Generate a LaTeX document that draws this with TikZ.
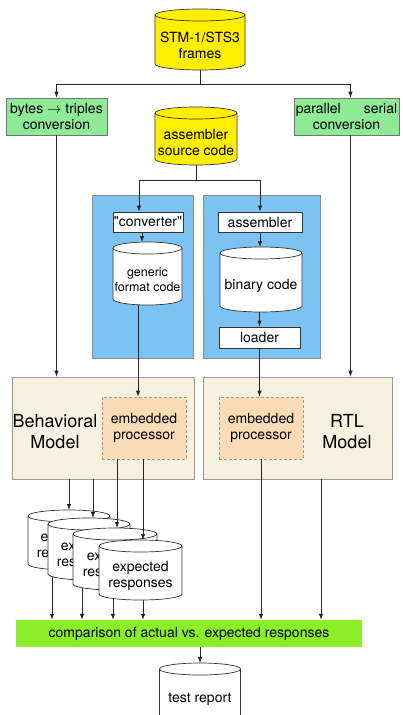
\documentclass[tikz,border=0pt]{standalone}
\usepackage{fontspec}
\setmainfont{TeX Gyre Heros}
\newfontfamily\plainquotes{TeX Gyre Heros}
\usetikzlibrary{arrows.meta}

\definecolor{drumyellow}{RGB}{255,238,0}
\definecolor{convgreen}{RGB}{142,234,150}
\definecolor{panelblue}{RGB}{124,195,243}
\definecolor{modelbeige}{RGB}{246,241,222}
\definecolor{procpeach}{RGB}{249,219,182}
\definecolor{bargreen}{RGB}{140,238,40}

\pgfdeclarelayer{paper}
\pgfdeclarelayer{behind}
\pgfsetlayers{paper,behind,main}

% drum (cylinder) symbol: name, centre x, top y, width, height, fill, font, text
\newcommand{\drum}[8]{%
  \node[minimum width=#4pt, minimum height=#5pt, inner sep=0pt, outer sep=0pt,
        anchor=north] (#1) at (#2,#3) {};
  \filldraw[fill=#6, draw=black!80, line width=0.7pt]
    ([yshift=-6pt]#1.north west) -- ([yshift=6pt]#1.south west)
    arc[start angle=180, end angle=360, x radius=#4pt/2, y radius=6pt]
    -- ([yshift=-6pt]#1.north east)
    arc[start angle=0, end angle=180, x radius=#4pt/2, y radius=6pt] -- cycle;
  \draw[draw=black!80, line width=0.7pt] ([yshift=-6pt]#1.north west)
    arc[start angle=180, end angle=360, x radius=#4pt/2, y radius=6pt];
  \node[font=#7, align=center, inner sep=0pt] (#1-t) at ([yshift=-6pt]#1.center) {#8};
}

\begin{document}
\begin{tikzpicture}[x=1pt, y=-1pt,
  every node/.style={font=\fontsize{14}{16}\selectfont},
  line/.style={draw=black!85, line width=0.8pt},
  arr/.style={line, -{Latex[length=6pt,width=4.5pt]}},
  convbox/.style={draw=black!55, fill=convgreen, line width=0.6pt, align=center, inner sep=0pt},
  panel/.style={draw=black!45, fill=panelblue, line width=0.5pt, inner sep=0pt},
  whitebox/.style={draw=black!80, fill=white, line width=0.7pt, inner sep=0pt},
  model/.style={draw=black!40, fill=modelbeige, line width=0.6pt, inner sep=0pt},
  proc/.style={draw=black!40, fill=procpeach, densely dashed, line width=0.6pt,
               align=center, inner sep=0pt}]

\useasboundingbox (0,0) rectangle (403,715);
\begin{pgfonlayer}{paper}
  \fill[white] (0,0) rectangle (403,715);
\end{pgfonlayer}

% sources
\drum{stm}{200}{9}{90}{61}{drumyellow}{\fontsize{14}{16}\selectfont}{STM-1/STS3\\frames}
\node[convbox, minimum width=101pt, minimum height=37pt] (bt) at (56.5,116.5)
  {bytes $\rightarrow$ triples\\conversion};
\node[convbox, minimum width=105pt, minimum height=37pt] (ps) at (346.5,116.5)
  {parallel\hspace{23pt}serial\\conversion};
\drum{asm}{196}{107}{82}{58}{drumyellow}{\fontsize{14}{16}\selectfont}{assembler\\source code}

% tool chains
\node[panel, minimum width=101pt, minimum height=163pt] (pl) at (142.5,276.5) {};
\node[panel, minimum width=117pt, minimum height=163pt] (pr) at (261.5,276.5) {};
\node[whitebox, minimum width=70pt, minimum height=20pt] (conv) at (148,222)
  {\plainquotes "converter"};
\node[whitebox, minimum width=84pt, minimum height=20pt] (asmb) at (260,222) {assembler};
\drum{gen}{147.5}{242}{69}{63}{white}{\fontsize{12.5}{15}\selectfont}{generic\\format code}
\drum{bin}{261}{247}{82}{65}{white}{\fontsize{14}{16}\selectfont}{binary code}
\node[whitebox, minimum width=81pt, minimum height=21pt] (loader) at (259.5,337.5) {loader};

% models
\node[model, minimum width=182pt, minimum height=102pt] (beh) at (103,428) {};
\node[model, minimum width=189pt, minimum height=102pt] (rtl) at (297.5,428) {};
\node[proc, minimum width=84pt, minimum height=62pt] (ep1) at (144,428) {embedded\\processor};
\node[proc, minimum width=84pt, minimum height=62pt] (ep2) at (261,428) {embedded\\processor};
\node[font=\fontsize{18}{21}\selectfont, align=center] (behl) at (55,432) {Behavioral\\Model};
\node[font=\fontsize{18}{21}\selectfont, align=center] (rtll) at (347,432) {RTL\\Model};

% expected responses (stacked; only the uncovered letters of the back ones show)
\drum{c1}{69}{510}{82}{60}{white}{\fontsize{14}{16}\selectfont}
  {e\phantom{xpected}\\re\phantom{sponses}}
\drum{c2}{89}{518}{82}{62}{white}{\fontsize{14}{16}\selectfont}
  {ex\phantom{pected}\\res\phantom{ponses}}
\drum{c3}{115}{528}{84}{62}{white}{\fontsize{14}{16}\selectfont}
  {ex\phantom{pected}\\res\phantom{ponses}}
\drum{c4}{140.5}{540}{83}{60}{white}{\fontsize{14}{16}\selectfont}{expected\\responses}

% comparison and report
\node[fill=bargreen, minimum width=346pt, minimum height=27pt, inner sep=0pt] (bar)
  at (189,633.5) {comparison of actual vs. expected responses};
\drum{tr}{200}{663}{81}{60}{white}{\fontsize{14}{16}\selectfont}{test report}

% connectors
\coordinate (j1) at (200,84);
\draw[line] (stm.south) -- (j1);
\draw[arr] (j1) -| (bt.north);
\draw[arr] (j1) -| ([xshift=4pt]ps.north);

\coordinate (j2) at (196,180);
\draw[line] (asm.south) -- (j2);
\draw[arr] (j2) -| ([xshift=-9pt]conv.north);
\draw[arr] (j2) -| (asmb.north);

\draw[arr] ([xshift=-6pt]conv.south) -- ([xshift=-6pt]conv.south |- gen.north);
\draw[arr] ([xshift=-9.5pt]gen.south) -- ([xshift=-9.5pt]gen.south |- ep1.north);
\draw[arr] (asmb.south) -- (asmb.south |- bin.north);
\draw[arr] (loader.north |- bin.south) -- (loader.north);
\draw[arr] (loader.south) -- (loader.south |- ep2.north);

\draw[arr] (bt.south) -- (bt.south |- beh.north);
\draw[arr] ([xshift=4pt]ps.south) -- ([xshift=4pt]ps.south |- rtl.north);

\draw[arr] (c1.north |- beh.south) -- (c1.north);
\draw[arr] ([xshift=4pt]c2.north |- beh.south) -- ([xshift=4pt]c2.north);
\draw[arr] ([xshift=2pt]c3.north |- ep1.south) -- ([xshift=2pt]c3.north);
\draw[arr] ([xshift=2.5pt]c4.north |- ep1.south) -- ([xshift=2.5pt]c4.north);

\begin{pgfonlayer}{behind}
  \draw[arr] ([xshift=-17pt]c1.south) -- ([xshift=-17pt]c1.south |- bar.north);
  \draw[arr] ([xshift=-7pt]c2.south) -- ([xshift=-7pt]c2.south |- bar.north);
  \draw[arr] ([xshift=-2pt]c3.south) -- ([xshift=-2pt]c3.south |- bar.north);
  \draw[arr] ([xshift=2.5pt]c4.south) -- ([xshift=2.5pt]c4.south |- bar.north);
\end{pgfonlayer}

\draw[arr] (ep2.south) -- (ep2.south |- bar.north);
\draw[arr] ([xshift=23.5pt]rtl.south) -- ([xshift=23.5pt]rtl.south |- bar.north);
\draw[arr] (tr.north |- bar.south) -- (tr.north);

\end{tikzpicture}
\end{document}
